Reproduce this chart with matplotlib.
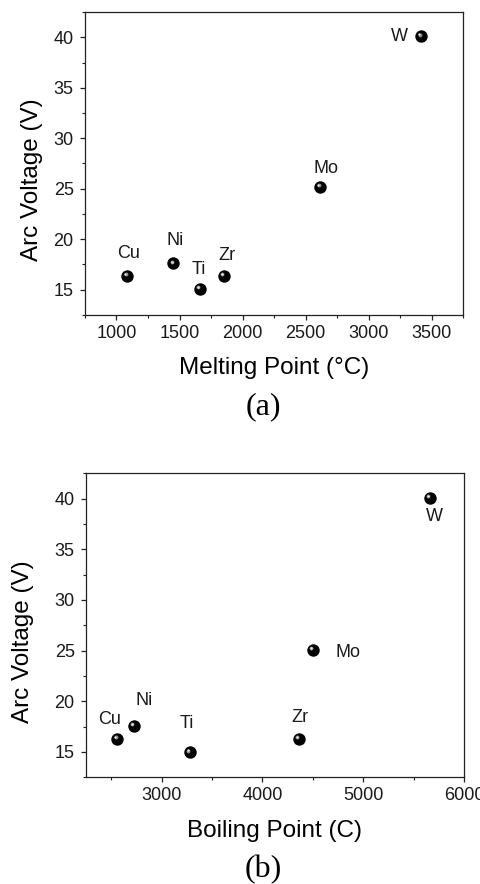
import matplotlib
matplotlib.use("Agg")
import matplotlib.pyplot as plt
from matplotlib.ticker import MultipleLocator
import matplotlib.transforms as mtransforms

elements = ["Cu", "Ni", "Ti", "Zr", "Mo", "W"]
arc_voltage_a = [16.4, 17.6, 15.1, 16.4, 25.2, 40.1]
melting_point = [1083, 1452, 1660, 1850, 2615, 3415]
arc_voltage_b = [16.3, 17.6, 15.0, 16.3, 25.1, 40.1]
boiling_point = [2560, 2725, 3280, 4360, 4500, 5660]

# label offsets in pixels (dx, dy)
offs_a = [(2, 22), (2, 23), (-1, 19), (3, 20), (6, 18), (-22, 0)]
offs_b = [(-8, 19), (10, 25), (-3, 28), (1, 21), (35, -3), (5, -19)]

plt.rcParams['font.family'] = ['Liberation Sans', 'DejaVu Sans']
fig = plt.figure(figsize=(4.8, 8.84), dpi=100)

def style(ax, xlim, xmaj, xmin, xlabel):
    ax.set_xlim(*xlim)
    ax.set_ylim(12.5, 42.5)
    ax.xaxis.set_major_locator(MultipleLocator(xmaj))
    ax.xaxis.set_minor_locator(MultipleLocator(xmin))
    ax.yaxis.set_major_locator(MultipleLocator(5))
    ax.yaxis.set_minor_locator(MultipleLocator(2.5))
    for s in ax.spines.values():
        s.set_linewidth(0.9)
        s.set_color("#222222")
    ax.tick_params(which='major', direction='out', length=3.6, width=0.9,
                   labelsize=13, colors="#222222", labelcolor="#1a1a1a")
    ax.tick_params(which='minor', direction='out', length=2.3, width=0.8,
                   colors="#222222")
    ax.tick_params(axis='x', which='major', pad=3.5)
    ax.tick_params(axis='y', which='major', pad=4.5)
    ax.tick_params(axis='x', which='both', top=False)
    ax.tick_params(axis='y', which='both', right=False)
    ax.set_xlabel(xlabel, fontsize=17.5)
    ax.set_ylabel("Arc Voltage (V)", fontsize=17.5)

def spheres(ax, xs, ys):
    ax.scatter(xs, ys, s=80, c="black", zorder=3, linewidths=0)
    tr = mtransforms.offset_copy(ax.transData, fig=fig, x=-1.4, y=1.4, units='dots')
    ax.scatter(xs, ys, s=8, c="#8a8a8a", zorder=4, linewidths=0, transform=tr)
    tr2 = mtransforms.offset_copy(ax.transData, fig=fig, x=-1.8, y=1.8, units='dots')
    ax.scatter(xs, ys, s=2.5, c="#eeeeee", zorder=5, linewidths=0, transform=tr2)

def labels(ax, xs, ys, offs):
    for name, x, y, (dx, dy) in zip(elements, xs, ys, offs):
        ax.annotate(name, (x, y), xytext=(dx, dy), textcoords='offset pixels',
                    ha='center', va='center', fontsize=13, color="#1a1a1a")

ax1 = fig.add_axes([0.177, 0.6437, 0.788, 0.3427])
style(ax1, (750, 3750), 500, 250, "Melting Point (°C)")
spheres(ax1, melting_point, arc_voltage_a)
labels(ax1, melting_point, arc_voltage_a, offs_a)
ax1.yaxis.set_label_coords(-0.111, 0.447)
ax1.xaxis.set_label_coords(0.5, -0.139)

ax2 = fig.add_axes([0.179, 0.1207, 0.7875, 0.3439])
style(ax2, (2250, 6000), 1000, 500, "Boiling Point (C)")
spheres(ax2, boiling_point, arc_voltage_b)
labels(ax2, boiling_point, arc_voltage_b, offs_b)
ax2.yaxis.set_label_coords(-0.1376, 0.446)
ax2.xaxis.set_label_coords(0.5, -0.141)

fig.text(263/480, 1 - 407/884, "(a)", ha='center', va='center',
         fontsize=23, family='Liberation Serif')
fig.text(263/480, 1 - 870/884, "(b)", ha='center', va='center',
         fontsize=23, family='Liberation Serif')

fig.savefig("out.png", dpi=100)
